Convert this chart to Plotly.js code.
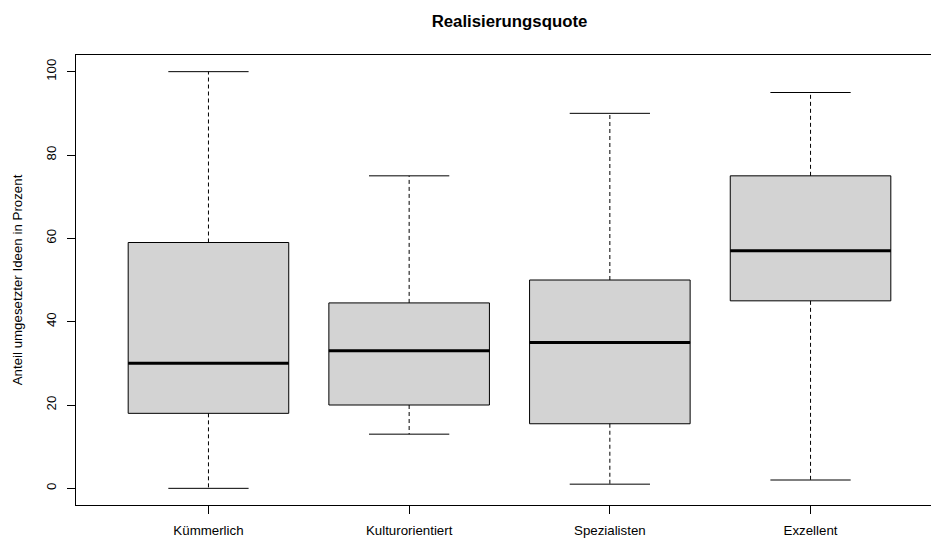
<!DOCTYPE html>
<html>
<head>
<meta charset="utf-8">
<script src="https://cdn.plot.ly/plotly-3.0.1.min.js"></script>
<style>
html,body{margin:0;padding:0;overflow:hidden;background:#fff;width:931px;height:538px;}
#chart{width:944px;height:538px;}
</style>
</head>
<body>
<div id="chart"></div>
<script>
const categories = ['Kümmerlich', 'Kulturorientiert', 'Spezialisten', 'Exzellent'];
const minimums = [0, 13, 1, 2];
const lowerQuartiles = [18, 20, 15.5, 45];
const medians = [30, 33, 35, 57];
const upperQuartiles = [59, 44.5, 50, 75];
const maximums = [100, 75, 90, 95];
const yTicks = [0, 20, 40, 60, 80, 100];

const positions = categories.map((c, i) => i + 1);
const boxHalf = 0.4;
const capHalf = 0.2;

const whiskerX = [], whiskerY = [], capX = [], capY = [], medX = [], medY = [];
positions.forEach((p, i) => {
  whiskerX.push(p, p, null, p, p, null);
  whiskerY.push(upperQuartiles[i], maximums[i], null, lowerQuartiles[i], minimums[i], null);
  capX.push(p - capHalf, p + capHalf, null, p - capHalf, p + capHalf, null);
  capY.push(maximums[i], maximums[i], null, minimums[i], minimums[i], null);
  medX.push(p - boxHalf, p + boxHalf, null);
  medY.push(medians[i], medians[i], null);
});

const traces = [
  {
    type: 'box',
    x: positions,
    q1: lowerQuartiles,
    median: medians,
    q3: upperQuartiles,
    lowerfence: lowerQuartiles,
    upperfence: upperQuartiles,
    width: 2 * boxHalf,
    whiskerwidth: 0,
    fillcolor: '#d3d3d3',
    line: {color: '#000', width: 1},
    hoverinfo: 'skip',
    showlegend: false
  },
  {
    type: 'scatter', mode: 'lines', x: whiskerX, y: whiskerY,
    line: {color: '#000', width: 1, dash: '4px,3px'},
    hoverinfo: 'skip', showlegend: false
  },
  {
    type: 'scatter', mode: 'lines', x: capX, y: capY,
    line: {color: '#000', width: 1},
    hoverinfo: 'skip', showlegend: false
  },
  {
    type: 'scatter', mode: 'lines', x: medX, y: medY,
    line: {color: '#000', width: 3},
    hoverinfo: 'skip', showlegend: false
  }
];

const font = {family: '"Liberation Sans", Arial, Helvetica, sans-serif', color: '#000'};

const layout = {
  width: 944,
  height: 538,
  margin: {l: 76, r: 0.5, t: 55, b: 33, pad: 0},
  paper_bgcolor: '#fff',
  plot_bgcolor: '#fff',
  font: Object.assign({size: 13.3}, font),
  title: {
    text: '<b>Realisierungsquote</b>',
    font: Object.assign({size: 16.8}, font),
    x: 0.5, xref: 'paper', xanchor: 'center',
    y: 0.961, yref: 'container', yanchor: 'middle'
  },
  xaxis: {
    range: [0.34, 4.66],
    tickmode: 'array',
    tickvals: positions,
    ticktext: categories,
    ticks: 'outside', ticklen: 8, tickwidth: 1, tickcolor: '#000',
    ticklabelstandoff: 5,
    showline: true, linecolor: '#000', linewidth: 1, mirror: true,
    showgrid: false, zeroline: false,
    tickfont: Object.assign({size: 13.3}, font),
    fixedrange: true
  },
  yaxis: {
    range: [-4, 104],
    tickmode: 'array',
    tickvals: yTicks,
    ticktext: yTicks.map(String),
    tickangle: -90,
    ticks: 'outside', ticklen: 8, tickwidth: 1, tickcolor: '#000',
    ticklabelstandoff: 6,
    showline: true, linecolor: '#000', linewidth: 1, mirror: true,
    showgrid: false, zeroline: false,
    tickfont: Object.assign({size: 13.3}, font),
    title: {text: 'Anteil umgesetzter Ideen in Prozent', font: Object.assign({size: 13.3}, font), standoff: 18},
    automargin: false,
    fixedrange: true
  }
};

Plotly.newPlot('chart', traces, layout, {staticPlot: true, displayModeBar: false});
</script>
</body>
</html>
